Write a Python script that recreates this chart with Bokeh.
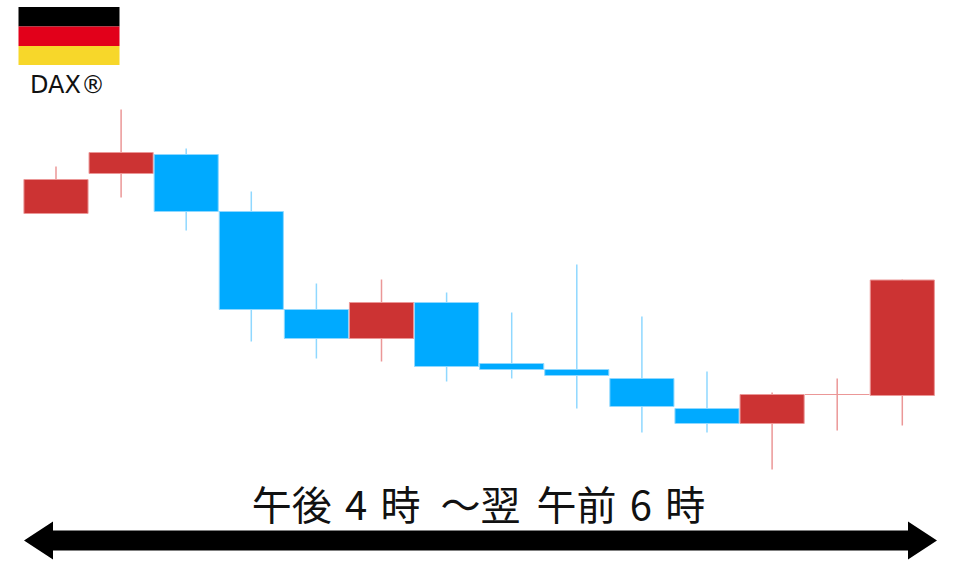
from bokeh.embed import file_html
from bokeh.resources import INLINE
from bokeh.plotting import figure
from bokeh.models import Range1d
from bokeh.core.properties import value

# Session candles (price units of the picture's scale)
session = list(range(14))
open_ = [354, 394, 413, 356, 258, 229, 265, 204, 198, 189, 159, 144, 173, 172]
close = [388, 415, 356, 258, 229, 265, 201, 198, 192, 161, 144, 173, 173, 287.5]
high = [401, 458, 419, 376, 284, 288, 275, 255, 303, 251, 196, 175, 189, 288]
low = [354, 370, 337, 226, 209, 206, 186, 189, 159, 135, 135, 98, 137, 142]

RED, BLUE = "#CC3333", "#00AAFF"
RED_SOFT, BLUE_SOFT = "#EB9797", "#8FD8FF"

title_text = "午後\u20044\u2004時\u2002～翌\u2004\u200a午前\u20046\u2004時"
flag_label = "DAX®"

p = figure(width=960, height=567, output_backend="svg", toolbar_location=None,
           x_range=Range1d(-0.8525, 13.894), y_range=Range1d(0, 567),
           min_border=0, margin=(0, 0, 0, 0))
p.axis.visible = False
p.grid.visible = False
p.outline_line_color = None
p.background_fill_color = "white"
p.border_fill_color = "white"
p.extra_x_ranges["px"] = Range1d(0, 960)
p.extra_y_ranges["px"] = Range1d(567, 0)

up = [c >= o for o, c in zip(open_, close)]
p.segment(session, high, session, low,
          line_color=[RED_SOFT if u else BLUE_SOFT for u in up], line_width=1.5)
p.vbar(x=session, width=0.985,
       bottom=[min(o, c) for o, c in zip(open_, close)],
       top=[max(o, c) for o, c in zip(open_, close)],
       fill_color=[RED if u else BLUE for u in up],
       line_color=[RED_SOFT if u else BLUE_SOFT for u in up], line_width=1)

# Flag
for top, bottom, colour in [(6.5, 26, "#000000"), (26, 45.5, "#E2001A"), (45.5, 64.5, "#F7D72A")]:
    p.quad(left=18, right=119, top=top, bottom=bottom, fill_color=colour, line_color=None,
           x_range_name="px", y_range_name="px")
p.text(x=[67], y=[84], text=[flag_label], text_font=value("DejaVu Sans"),
       text_font_size="24px", text_color="#111111", text_align="center",
       text_baseline="middle", x_range_name="px", y_range_name="px")

# Title and double arrow
p.text(x=[478], y=[502.5], text=[title_text], text_font=value("Noto Sans CJK JP"),
       text_font_size="40px", text_color="#111111", text_align="center",
       text_baseline="middle", x_range_name="px", y_range_name="px")
p.patch(x=[23.5, 52.5, 52.5, 907.5, 907.5, 936.5, 907.5, 907.5, 52.5, 52.5],
        y=[540, 521, 530, 530, 521, 540, 559, 550, 550, 559],
        fill_color="black", line_color=None, x_range_name="px", y_range_name="px")

open("out.html", "w").write(file_html(p, INLINE))
